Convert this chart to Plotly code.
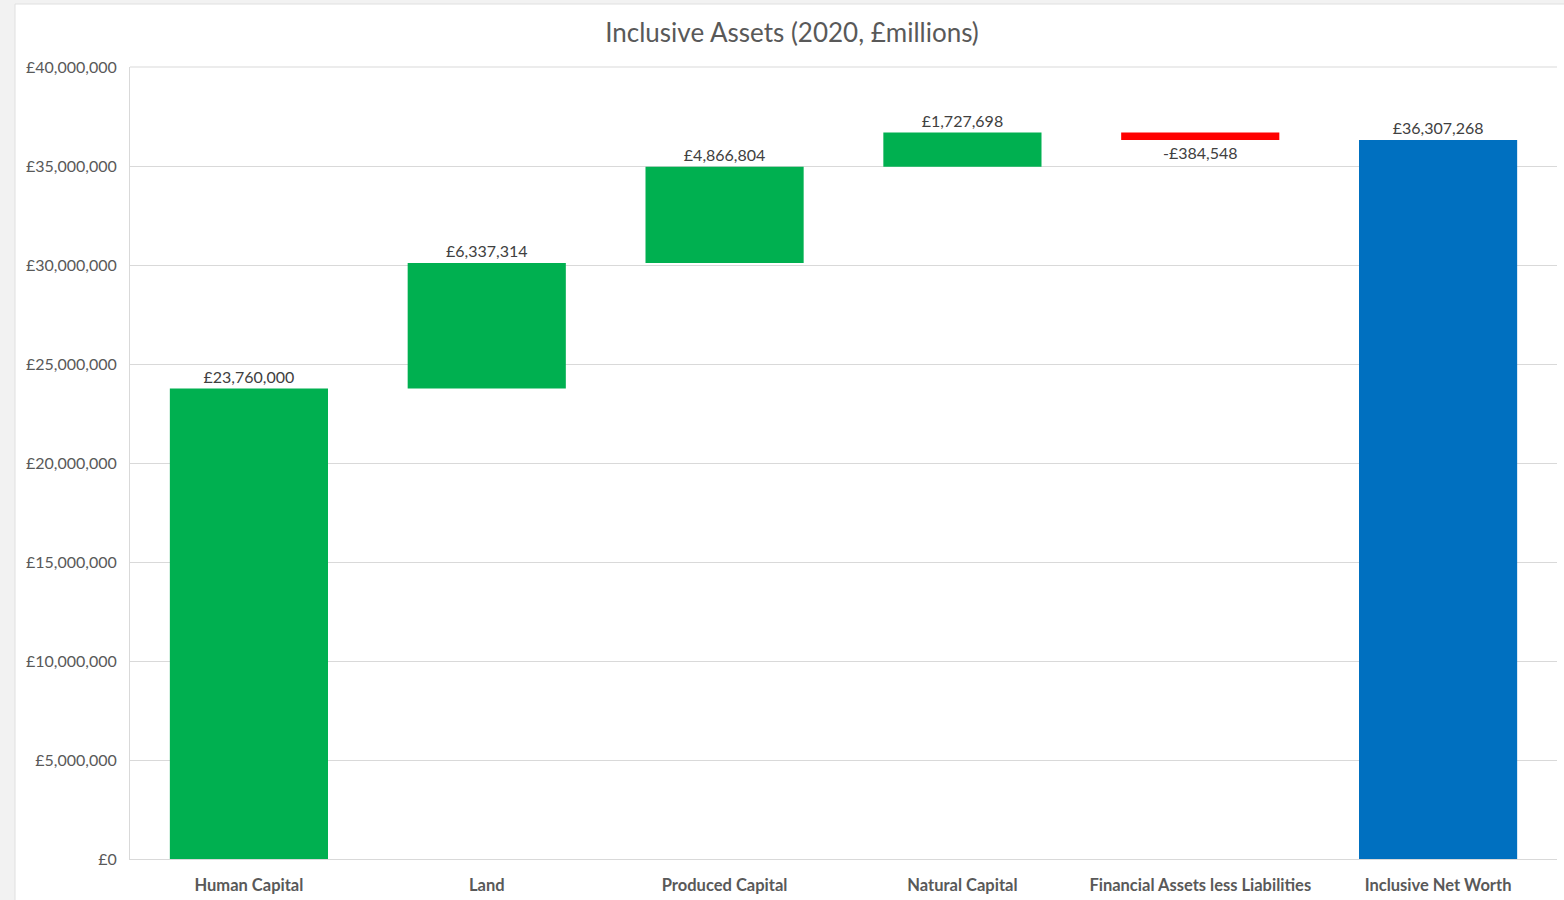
import plotly.graph_objects as go

categories = ["Human Capital", "Land", "Produced Capital", "Natural Capital",
              "Financial Assets less Liabilities", "Inclusive Net Worth"]
values = [23760000, 6337314, 4866804, 1727698, -384548, 36307268]
measures = ["relative", "relative", "relative", "relative", "relative", "total"]
labels = ["£23,760,000", "£6,337,314", "£4,866,804", "£1,727,698", "-£384,548", "£36,307,268"]

W, H = 1564, 900
L, R, T, B = 130, 7, 67, 41
pw, ph = W - L - R, H - T - B
FONT = "Lato, sans-serif"

fig = go.Figure(go.Waterfall(
    x=categories, y=values, measure=measures,
    text=labels, textposition="outside",
    textfont=dict(family=FONT, size=16, color="#404040"),
    increasing=dict(marker=dict(color="#00b050")),
    decreasing=dict(marker=dict(color="#ff0000")),
    totals=dict(marker=dict(color="#0070c0")),
    connector=dict(visible=False),
    cliponaxis=False,
    hoverinfo="skip",
))

fig.update_layout(
    width=W, height=H,
    margin=dict(l=L, r=R, t=T, b=B),
    paper_bgcolor="#f2f2f2",
    plot_bgcolor="white",
    showlegend=False,
    waterfallgap=0.335,
    title=dict(text="Inclusive Assets (2020, £millions)", x=792 / W, xref="container",
               xanchor="center", y=1 - 33 / H, yanchor="middle",
               font=dict(family=FONT, size=26, color="#595959")),
    font=dict(family=FONT, color="#595959"),
    shapes=[dict(type="rect", xref="paper", yref="paper", layer="below",
                 x0=(15 - L) / pw, x1=(W - L + 5) / pw,
                 y0=-(B + 5) / ph, y1=1 + (T - 4) / ph,
                 fillcolor="white", line=dict(width=1, color="#e0e0e0")),
            dict(type="line", xref="paper", yref="paper", layer="below",
                 x0=0, x1=1, y0=1, y1=1, line=dict(width=1, color="#d9d9d9"))],
)
fig.update_yaxes(range=[0, 40000000], dtick=5000000, tickprefix="£", tickformat=",d",
                 showgrid=True, gridcolor="#d9d9d9", gridwidth=1,
                 showline=True, linecolor="#d9d9d9", linewidth=1,
                 zeroline=False, ticks="", ticklabelstandoff=9, automargin=False,
                 tickfont=dict(family=FONT, size=16, color="#595959"))
fig.update_xaxes(showline=True, linecolor="#d9d9d9", linewidth=1, ticks="",
                 ticklabelstandoff=11, automargin=False,
                 tickfont=dict(family=FONT, size=16.5, color="#595959", weight="bold"))

fig.write_html("out.html")
